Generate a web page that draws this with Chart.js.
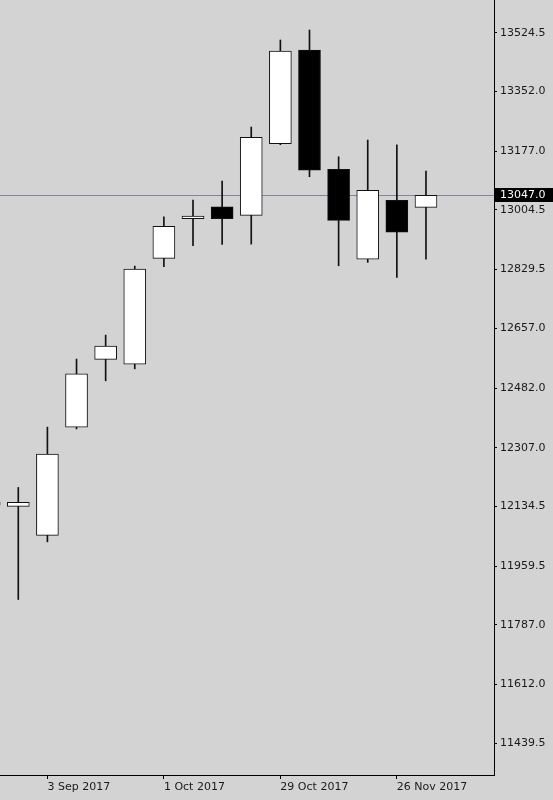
<!DOCTYPE html>
<html>
<head>
<meta charset="utf-8">
<script src="https://cdn.jsdelivr.net/npm/chart.js@4.4.1/dist/chart.umd.min.js"></script>
<style>
  html, body { margin: 0; padding: 0; background: #d3d3d3; }
  #wrap { width: 553px; height: 800px; }
</style>
</head>
<body>
<div id="wrap"><canvas id="chart" width="553" height="800"></canvas></div>
<script>
// weekly bars, one per week
const weeks = ['20 Aug 2017', '27 Aug 2017', '3 Sep 2017', '10 Sep 2017', '17 Sep 2017', '24 Sep 2017',
    '1 Oct 2017', '8 Oct 2017', '15 Oct 2017', '22 Oct 2017', '29 Oct 2017', '5 Nov 2017',
    '12 Nov 2017', '19 Nov 2017', '26 Nov 2017', '3 Dec 2017'];
const opens  = [12147.0, 12134.5, 12049.4, 12367.2, 12565.9, 12552.1, 12862.4, 12978.6,
    13013.8, 12988.6, 13198.7, 13473.7, 13123.6, 12860.3, 13032.6, 13012.0];
const highs  = [12190.0, 12190.2, 12367.2, 12566.8, 12637.2, 12839.7, 12984.5, 13033.5,
    13089.2, 13247.7, 13503.1, 13532.4, 13160.6, 13209.6, 13195.8, 13118.6];
const lows   = [12100.0, 11861.5, 12030.6, 12362.0, 12503.1, 12538.3, 12837.7, 12899.3,
    12903.5, 12904.3, 13196.0, 13101.9, 12840.6, 12850.6, 12806.6, 12860.3];
const closes = [12138.3, 12146.2, 12288.0, 12523.7, 12605.0, 12831.0, 12956.3, 12986.5,
    12978.6, 13217.5, 13470.8, 13121.5, 12973.9, 13061.9, 12939.6, 13047.0];

const yTicks = [13524.5, 13352.0, 13177.0, 13004.5, 12829.5, 12657.0, 12482.0,
    12307.0, 12134.5, 11959.5, 11787.0, 11612.0, 11439.5];
const xTickLabels = ['3 Sep 2017', '1 Oct 2017', '29 Oct 2017', '26 Nov 2017'];
const lastPrice = 13047.0;

const bodies = weeks.map((w, i) => ({ x: i, y: [opens[i], closes[i]] }));
const wicks = weeks.map((w, i) => ({ x: i, y: [lows[i], highs[i]] }));
const bodyColors = weeks.map((w, i) => closes[i] >= opens[i] ? '#ffffff' : '#000000');

Chart.defaults.font.family = 'DejaVu Sans';
Chart.defaults.font.size = 11;
Chart.defaults.color = '#1a1a1a';

function noPadding(scale) {
    scale.paddingTop = 0;
    scale.paddingBottom = 0;
    scale.paddingLeft = 0;
    scale.paddingRight = 0;
}

// current price line (behind candles) and its tag on the axis
const priceLine = {
    id: 'priceLine',
    beforeDatasetsDraw(chart) {
        const { ctx, chartArea, scales } = chart;
        const y = Math.round(scales.y.getPixelForValue(lastPrice)) + 0.5;
        ctx.save();
        ctx.strokeStyle = '#7a8a99';
        ctx.lineWidth = 1;
        ctx.beginPath();
        ctx.moveTo(chartArea.left, y);
        ctx.lineTo(chartArea.right, y);
        ctx.stroke();
        ctx.restore();
    },
    afterDraw(chart) {
        const { ctx, chartArea, scales } = chart;
        const y = Math.round(scales.y.getPixelForValue(lastPrice));
        ctx.save();
        ctx.fillStyle = '#000000';
        ctx.fillRect(chartArea.right + 1, y - 7, chart.width - chartArea.right - 1, 14);
        ctx.fillStyle = '#ffffff';
        ctx.font = '11px "DejaVu Sans"';
        ctx.textBaseline = 'middle';
        ctx.textAlign = 'left';
        ctx.fillText(lastPrice.toFixed(1), chartArea.right + 6, y + 0.5);
        ctx.restore();
    }
};

new Chart(document.getElementById('chart'), {
    type: 'bar',
    data: {
        datasets: [
            {
                label: 'body',
                data: bodies,
                grouped: false,
                barThickness: 22,
                backgroundColor: bodyColors,
                borderColor: '#111111',
                borderWidth: 1,
                borderSkipped: false
            },
            {
                label: 'wick',
                data: wicks,
                grouped: false,
                barThickness: 1,
                backgroundColor: '#111111',
                borderWidth: 0
            }
        ]
    },
    options: {
        responsive: false,
        animation: false,
        layout: { padding: 0 },
        plugins: {
            legend: { display: false },
            tooltip: { enabled: false }
        },
        scales: {
            x: {
                type: 'linear',
                offset: false,
                min: 0.372,
                max: 17.336,
                grid: { offset: false, drawOnChartArea: false, drawTicks: true, tickLength: 4, color: '#000000' },
                border: { display: true, color: '#000000' },
                ticks: {
                    align: 'start',
                    autoSkip: false,
                    maxRotation: 0,
                    padding: 2,
                    callback: (v, i) => xTickLabels[i]
                },
                afterBuildTicks: scale => {
                    scale.ticks = xTickLabels.map(l => ({ value: weeks.indexOf(l) }));
                },
                afterFit: scale => {
                    scale.height = 25;
                    noPadding(scale);
                }
            },
            y: {
                type: 'linear',
                position: 'right',
                min: 11346.5,
                max: 13620.5,
                grid: { drawOnChartArea: false, drawTicks: true, tickLength: 3, color: '#000000' },
                border: { display: true, color: '#000000' },
                ticks: {
                    padding: 3,
                    callback: v => v.toFixed(1)
                },
                afterBuildTicks: scale => {
                    scale.ticks = yTicks.map(v => ({ value: v }));
                },
                afterFit: scale => {
                    scale.width = 59;
                    noPadding(scale);
                }
            }
        }
    },
    plugins: [priceLine]
});
</script>
</body>
</html>
